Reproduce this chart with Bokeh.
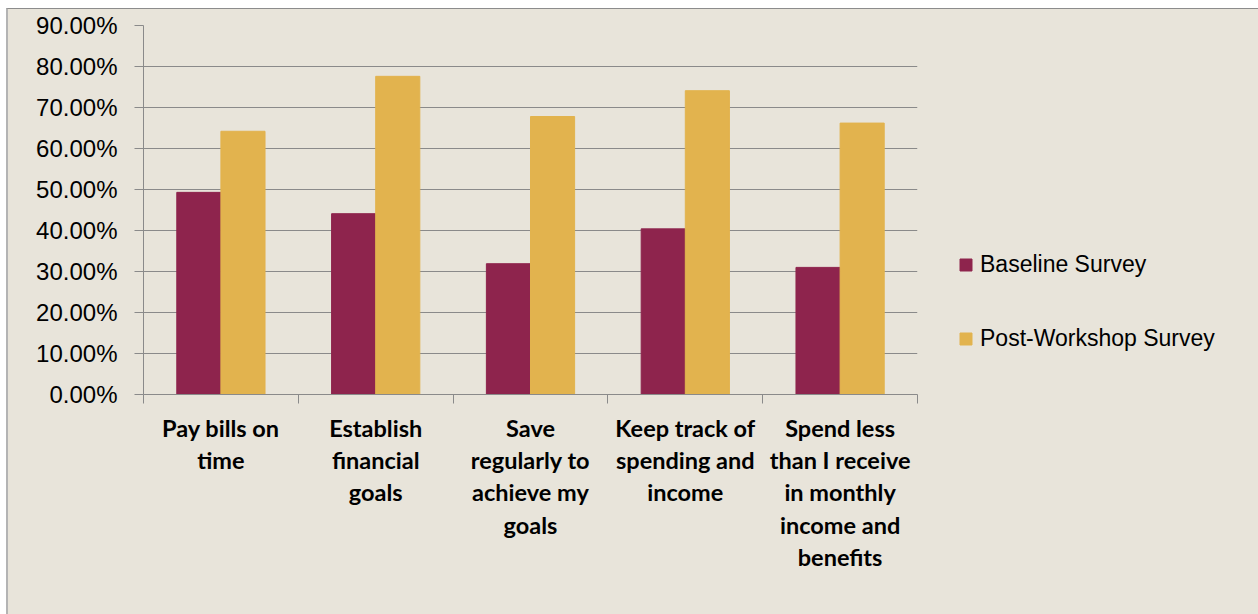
from bokeh.plotting import figure
from bokeh.models import (Range1d, FixedTicker, NumeralTickFormatter, ColumnDataSource,
                          Legend, LegendItem, CustomJSTickFormatter)
from bokeh.transform import dodge
from bokeh.embed import file_html
from bokeh.resources import INLINE

categories = [
    "Pay bills on\ntime",
    "Establish\nfinancial\ngoals",
    "Save\nregularly to\nachieve my\ngoals",
    "Keep track of\nspending and\nincome",
    "Spend less\nthan I receive\nin monthly\nincome and\nbenefits",
]
baseline = [0.493, 0.441, 0.319, 0.404, 0.310]
post_workshop = [0.642, 0.776, 0.678, 0.741, 0.662]
series_names = ["Baseline Survey", "Post-Workshop Survey"]
y_ticks = [0.0, 0.1, 0.2, 0.3, 0.4, 0.5, 0.6, 0.7, 0.8, 0.9]

BG = "#E8E4DA"
GRID = "#8a8a8a"
C_BASE = "#8E244D"
C_POST = "#E2B34E"

centers = [i + 0.5 for i in range(len(categories))]
bounds = list(range(len(categories) + 1))

src = ColumnDataSource(dict(x=centers, base=baseline, post=post_workshop))

p = figure(frame_width=774, frame_height=369, output_backend="svg", toolbar_location=None,
           x_range=Range1d(0, len(categories)), y_range=Range1d(0, 0.9),
           min_border_left=135, min_border_right=0, min_border_top=16, min_border_bottom=220)
p.styles = {"margin-left": "6px", "margin-top": "8px", "background-color": BG,
            "border-top": "1px solid #8c8c8c", "border-left": "2px solid #b4b4b4"}
p.background_fill_color = BG
p.border_fill_color = BG
p.outline_line_color = None

bw = 0.285
r1 = p.vbar(x=dodge("x", -bw / 2, range=p.x_range), top="base", width=bw, source=src,
            fill_color=C_BASE, line_color=C_BASE)
r2 = p.vbar(x=dodge("x", bw / 2, range=p.x_range), top="post", width=bw, source=src,
            fill_color=C_POST, line_color=C_POST)

# x axis
xa = p.xaxis[0]
xa.ticker = FixedTicker(ticks=centers, minor_ticks=bounds)
xa.formatter = CustomJSTickFormatter(args=dict(labels=categories),
                                     code="return labels[Math.round(tick - 0.5)] || '';")
xa.axis_line_color = GRID
xa.major_tick_line_color = None
xa.major_tick_out = 0
xa.major_tick_in = 0
xa.minor_tick_line_color = GRID
xa.minor_tick_out = 9
xa.minor_tick_in = 0
xa.major_label_text_font = "Lato"
xa.major_label_text_font_style = "bold"
xa.major_label_text_font_size = "23.5px"
xa.major_label_text_color = "black"
xa.major_label_text_line_height = 1.16
xa.major_label_standoff = 10

# y axis
ya = p.yaxis[0]
ya.ticker = FixedTicker(ticks=y_ticks, minor_ticks=[])
ya.formatter = NumeralTickFormatter(format="0.00%")
ya.axis_line_color = GRID
ya.major_tick_line_color = GRID
ya.major_tick_out = 9
ya.major_tick_in = 0
ya.minor_tick_line_color = None
ya.major_label_text_font = "Liberation Sans"
ya.major_label_text_font_size = "24px"
ya.major_label_text_color = "black"
ya.major_label_standoff = 17

p.xgrid.grid_line_color = None
p.ygrid.ticker = FixedTicker(ticks=y_ticks)
p.ygrid.grid_line_color = GRID
p.ygrid.grid_line_width = 1

legend = Legend(items=[LegendItem(label=series_names[0], renderers=[r1]),
                       LegendItem(label=series_names[1], renderers=[r2])],
                location="bottom_left", orientation="vertical")
legend.margin = 41
legend.padding = 0
legend.border_line_color = None
legend.background_fill_alpha = 0
legend.glyph_width = 15
legend.glyph_height = 15
legend.label_height = 30
legend.spacing = 44
legend.label_standoff = 7
legend.label_text_font = "Liberation Sans"
legend.label_text_font_size = "23px"
legend.label_text_color = "black"
p.add_layout(legend, "right")

open("out.html", "w").write(file_html(p, INLINE))
